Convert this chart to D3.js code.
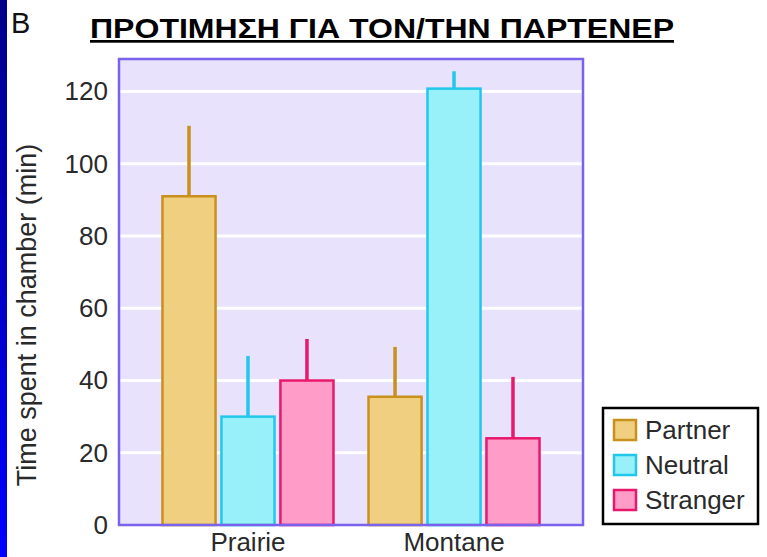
<!DOCTYPE html>
<html>
<head>
<meta charset="utf-8">
<script src="https://cdn.jsdelivr.net/npm/d3@7"></script>
<style>
  body { margin: 0; background: #fff; }
  svg { display: block; }
</style>
</head>
<body>
<div id="chart"></div>
<script>
// data
var groups = ["Prairie", "Montane"];
var seriesNames = ["Partner", "Neutral", "Stranger"];
var partnerValues = [91, 35.5];
var neutralValues = [30, 120.8];
var strangerValues = [40, 24];
var partnerErrTop = [110.5, 49.3];
var neutralErrTop = [46.8, 125.6];
var strangerErrTop = [51.5, 41];
var yTicks = [0, 20, 40, 60, 80, 100, 120];

var fills = { Partner: "#f0d080", Neutral: "#98f0f8", Stranger: "#ff9cc8" };
var strokes = { Partner: "#c8901c", Neutral: "#22c8ec", Stranger: "#e8186c" };

var width = 767, height = 557;
var margin = { top: 59, right: 184, bottom: 32, left: 119 };
var innerW = width - margin.left - margin.right,
    innerH = height - margin.top - margin.bottom;

var svg = d3.select("#chart").append("svg")
    .attr("width", width)
    .attr("height", height);

// blue strip on the left
var defs = svg.append("defs");
var grad = defs.append("linearGradient")
    .attr("id", "strip")
    .attr("x1", 0).attr("y1", 0).attr("x2", 0).attr("y2", 1);
grad.append("stop").attr("offset", "0%").attr("stop-color", "#00008a");
grad.append("stop").attr("offset", "100%").attr("stop-color", "#0000ff");
svg.append("rect")
    .attr("x", 0).attr("y", 0)
    .attr("width", 7).attr("height", height)
    .attr("fill", "url(#strip)");

// build rows
var rows = groups.map(function (g, i) {
    return {
        group: g,
        values: [
            { name: "Partner", value: partnerValues[i], err: partnerErrTop[i] },
            { name: "Neutral", value: neutralValues[i], err: neutralErrTop[i] },
            { name: "Stranger", value: strangerValues[i], err: strangerErrTop[i] }
        ]
    };
});

// scales
var x0 = d3.scaleBand().domain(groups).range([0, innerW])
    .paddingInner(0.17).paddingOuter(0.211);
var x1 = d3.scaleBand().domain(seriesNames).range([0, x0.bandwidth()])
    .paddingInner(0.1);
var y = d3.scaleLinear().domain([0, 129]).range([innerH, 0]);

var g = svg.append("g")
    .attr("transform", "translate(" + margin.left + "," + margin.top + ")");

// plot background
g.append("rect")
    .attr("width", innerW).attr("height", innerH)
    .attr("fill", "#e8e2fc");

// gridlines
g.append("g")
    .selectAll("line")
    .data(yTicks.filter(function (d) { return d > 0; }))
    .enter().append("line")
    .attr("x1", 0).attr("x2", innerW)
    .attr("y1", function (d) { return y(d); })
    .attr("y2", function (d) { return y(d); })
    .attr("stroke", "#fff")
    .attr("stroke-width", 3);

// y axis labels
var yAxis = d3.axisLeft(y).tickValues(yTicks).tickSize(0).tickPadding(11);
var ya = g.append("g").call(yAxis);
ya.select(".domain").remove();
ya.selectAll("text")
    .attr("font-family", "Liberation Sans, Arial, sans-serif")
    .attr("font-size", 26)
    .attr("fill", "#2a2a2a");

// bars
var grp = g.selectAll(".grp")
    .data(rows)
    .enter().append("g")
    .attr("class", "grp")
    .attr("transform", function (d) { return "translate(" + x0(d.group) + ",0)"; });

grp.selectAll(".err")
    .data(function (d) { return d.values; })
    .enter().append("line")
    .attr("class", "err")
    .attr("x1", function (d) { return x1(d.name) + x1.bandwidth() / 2; })
    .attr("x2", function (d) { return x1(d.name) + x1.bandwidth() / 2; })
    .attr("y1", function (d) { return y(d.value); })
    .attr("y2", function (d) { return y(d.err); })
    .attr("stroke", function (d) { return strokes[d.name]; })
    .attr("stroke-width", 3.5);

grp.selectAll(".bar")
    .data(function (d) { return d.values; })
    .enter().append("rect")
    .attr("class", "bar")
    .attr("x", function (d) { return x1(d.name); })
    .attr("y", function (d) { return y(d.value); })
    .attr("width", x1.bandwidth())
    .attr("height", function (d) { return innerH - y(d.value); })
    .attr("fill", function (d) { return fills[d.name]; })
    .attr("stroke", function (d) { return strokes[d.name]; })
    .attr("stroke-width", 2.5);

// plot border
g.append("rect")
    .attr("width", innerW).attr("height", innerH)
    .attr("fill", "none")
    .attr("stroke", "#7a62ec")
    .attr("stroke-width", 2.5);

// category labels (reference has them cropped at the bottom; keep them just inside)
g.selectAll(".cat")
    .data(groups)
    .enter().append("text")
    .attr("class", "cat")
    .attr("x", function (d) { return x0(d) + x0.bandwidth() / 2; })
    .attr("y", height - margin.top - 6)
    .attr("text-anchor", "middle")
    .attr("font-family", "Liberation Sans, Arial, sans-serif")
    .attr("font-size", 26)
    .attr("fill", "#2a2a2a")
    .text(function (d) { return d; });

// y axis title
svg.append("text")
    .attr("transform", "translate(36,315) rotate(-90)")
    .attr("text-anchor", "middle")
    .attr("font-family", "Liberation Sans, Arial, sans-serif")
    .attr("font-size", 27)
    .attr("fill", "#2a2a2a")
    .text("Time spent in chamber (min)");

// panel letter and title
svg.append("text")
    .attr("x", 11).attr("y", 33)
    .attr("font-family", "Liberation Sans, Arial, sans-serif")
    .attr("font-size", 29)
    .attr("fill", "#111")
    .text("B");

svg.append("text")
    .attr("x", 90).attr("y", 38)
    .attr("font-family", "Liberation Sans, Arial, sans-serif")
    .attr("font-size", 27)
    .attr("font-weight", "bold")
    .attr("text-decoration", "underline")
    .attr("textLength", 584)
    .attr("lengthAdjust", "spacingAndGlyphs")
    .attr("fill", "#000")
    .text("ΠΡΟΤΙΜΗΣΗ ΓΙΑ ΤΟΝ/ΤΗΝ ΠΑΡΤΕΝΕΡ");

// legend
var legend = svg.append("g").attr("transform", "translate(603,408)");
legend.append("rect")
    .attr("width", 155).attr("height", 116)
    .attr("fill", "#fff")
    .attr("stroke", "#000")
    .attr("stroke-width", 2.5);

var li = legend.selectAll(".li")
    .data(seriesNames)
    .enter().append("g")
    .attr("class", "li")
    .attr("transform", function (d, i) { return "translate(11," + (12 + i * 35) + ")"; });
li.append("rect")
    .attr("width", 22).attr("height", 20)
    .attr("fill", function (d) { return fills[d]; })
    .attr("stroke", function (d) { return strokes[d]; })
    .attr("stroke-width", 2.5);
li.append("text")
    .attr("x", 31).attr("y", 19)
    .attr("font-family", "Liberation Sans, Arial, sans-serif")
    .attr("font-size", 26)
    .attr("fill", "#2a2a2a")
    .text(function (d) { return d; });
</script>
</body>
</html>
